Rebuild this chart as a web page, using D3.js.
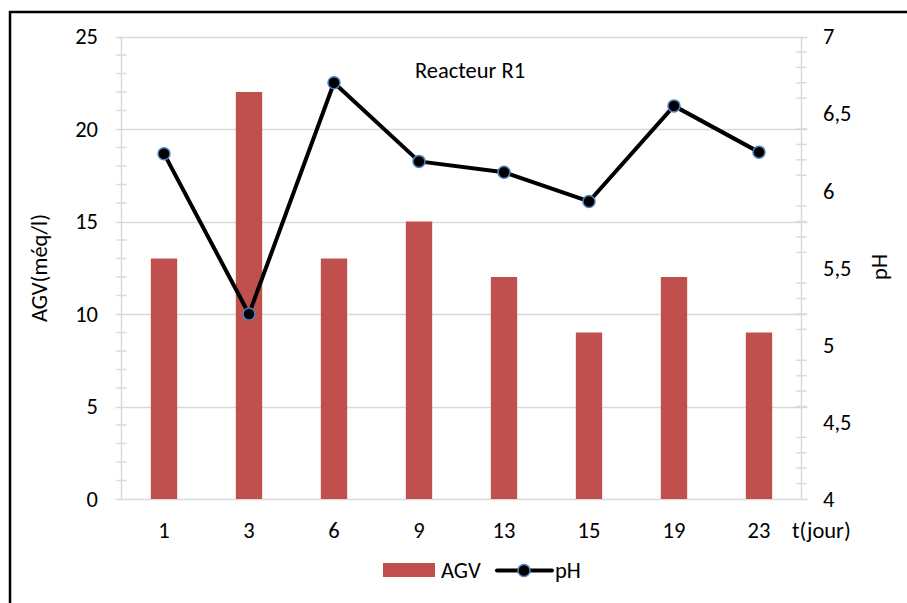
<!DOCTYPE html>
<html><head><meta charset="utf-8">
<script src="https://cdn.jsdelivr.net/npm/d3@7"></script>
<style>body{margin:0;background:#fff}svg{display:block}text{font-family:Carlito,Calibri,Lato,sans-serif;fill:#000}</style>
</head><body><svg id="c" width="907" height="603"></svg>
<script>
const categories = ["1","3","6","9","13","15","19","23"];
const agvValues = [13,22,13,15,12,9,12,9];
const phValues = [6.24,5.2,6.70,6.19,6.12,5.93,6.55,6.25];
const leftTicks = [0,5,10,15,20,25];
const rightTicks = [4,4.5,5,5.5,6,6.5,7];

const svg = d3.select("#c");
const L=121.5, R=801.5, T=36.5, B=499;
const x = d3.scaleBand().domain(categories).range([L,R]).paddingInner(0.69).paddingOuter(0.345);
const xc = d3.scalePoint().domain(categories).range([L,R]).padding(0.5);
const yL = d3.scaleLinear().domain([0,25]).range([B,T]);
const yR = d3.scaleLinear().domain([4,7]).range([B,T]);
const grid="#d9d9d9";
const FS=22.5;

// border
svg.append("rect").attr("x",10).attr("y",12).attr("width",1000).attr("height",1000)
  .attr("fill","none").attr("stroke","#000").attr("stroke-width",2.5);

// gridlines
svg.append("g").selectAll("line").data(leftTicks).join("line")
  .attr("x1",L-6).attr("x2",R+6).attr("y1",d=>Math.round(yL(d))+0.5).attr("y2",d=>Math.round(yL(d))+0.5)
  .attr("stroke",grid).attr("stroke-width",1.5);

// minor ticks left
svg.append("g").selectAll("line").data(d3.range(0,26).filter(v=>v%5)).join("line")
  .attr("x1",L-5).attr("x2",L+5).attr("y1",d=>yL(d)).attr("y2",d=>yL(d))
  .attr("stroke",grid).attr("stroke-width",1.5);
// minor ticks right
svg.append("g").selectAll("line").data(d3.range(40,71).filter(v=>v%5).map(v=>v/10)).join("line")
  .attr("x1",R-5).attr("x2",R+5).attr("y1",d=>yR(d)).attr("y2",d=>yR(d))
  .attr("stroke",grid).attr("stroke-width",1.5);
// axis lines
svg.append("line").attr("x1",L).attr("x2",L).attr("y1",T).attr("y2",B).attr("stroke",grid).attr("stroke-width",1.5);
svg.append("line").attr("x1",R).attr("x2",R).attr("y1",T).attr("y2",B).attr("stroke",grid).attr("stroke-width",1.5);

// bars
svg.append("g").selectAll("rect").data(agvValues).join("rect")
  .attr("x",(d,i)=>x(categories[i])).attr("width",x.bandwidth())
  .attr("y",d=>yL(d)).attr("height",d=>B-yL(d)).attr("fill","#c0504d");

// line
const line = d3.line().x((d,i)=>xc(categories[i])).y(d=>yR(d));
svg.append("path").datum(phValues).attr("d",line).attr("fill","none")
  .attr("stroke","#000").attr("stroke-width",4).attr("stroke-linejoin","round");
svg.append("g").selectAll("circle").data(phValues).join("circle")
  .attr("cx",(d,i)=>xc(categories[i])).attr("cy",d=>yR(d)).attr("r",6)
  .attr("fill","#000").attr("stroke","#4f81bd").attr("stroke-width",1.5);

// tick labels
svg.append("g").selectAll("text").data(leftTicks).join("text")
  .attr("x",98).attr("y",d=>yL(d)).attr("dy","0.35em").attr("text-anchor","end")
  .attr("font-size",FS).text(d=>d);
svg.append("g").selectAll("text").data(rightTicks).join("text")
  .attr("x",823).attr("y",d=>yR(d)).attr("dy","0.35em").attr("text-anchor","start")
  .attr("font-size",FS).text(d=>String(d).replace(".",","));
svg.append("g").selectAll("text").data(categories).join("text")
  .attr("x",d=>xc(d)).attr("y",538).attr("text-anchor","middle")
  .attr("font-size",FS).text(d=>d);
svg.append("text").attr("x",792).attr("y",538).attr("font-size",FS).text("t(jour)");

// axis titles
svg.append("text").attr("transform","translate(47,268) rotate(-90)").attr("text-anchor","middle")
  .attr("font-size",FS).text("AGV(méq/l)");
svg.append("text").attr("transform","translate(887,267) rotate(-90)").attr("text-anchor","middle")
  .attr("font-size",FS).text("pH");

// title
svg.append("text").attr("x",470).attr("y",78).attr("text-anchor","middle").attr("font-size",FS).text("Reacteur R1");

// legend
svg.append("rect").attr("x",383).attr("y",563).attr("width",52).attr("height",14).attr("fill","#c0504d");
svg.append("text").attr("x",441).attr("y",578).attr("font-size",FS).text("AGV");
svg.append("line").attr("x1",497).attr("x2",552).attr("y1",570.5).attr("y2",570.5).attr("stroke","#000").attr("stroke-width",4).attr("stroke-linecap","round");
svg.append("circle").attr("cx",524).attr("cy",570.5).attr("r",6).attr("fill","#000").attr("stroke","#4f81bd").attr("stroke-width",1.5);
svg.append("text").attr("x",555).attr("y",578).attr("font-size",FS).text("pH");
</script></body></html>
